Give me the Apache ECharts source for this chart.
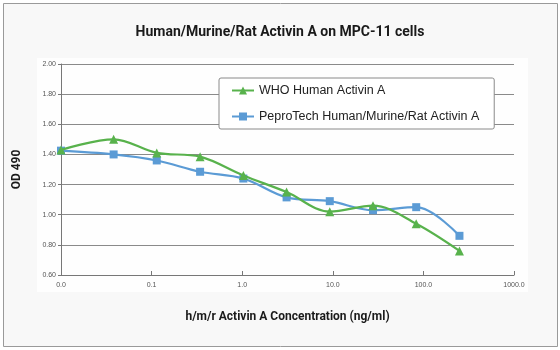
<!DOCTYPE html>
<html>
<head>
<meta charset="utf-8">
<script src="https://cdn.jsdelivr.net/npm/echarts@6/dist/echarts.min.js"></script>
<style>
  html, body { margin: 0; padding: 0; background: #fff; }
  #main { width: 560px; height: 350px; }
</style>
</head>
<body>
<div id="main"></div>
<script>
// concentrations (ng/ml), 3-fold dilution from 250; first point plotted at axis start
var concentrations = [0.01, 0.0381, 0.114, 0.343, 1.03, 3.09, 9.26, 27.8, 83.3, 250];
var whoValues = [1.43, 1.50, 1.41, 1.385, 1.26, 1.15, 1.02, 1.06, 0.94, 0.76];
var peproValues = [1.425, 1.40, 1.36, 1.285, 1.24, 1.115, 1.09, 1.03, 1.05, 0.86];
var seriesNames = ['WHO Human Activin A', 'PeproTech Human/Murine/Rat Activin A'];

function pairs(xs, ys) {
	var out = [];
	for (var i = 0; i < xs.length; i++) {
		out.push([xs[i], ys[i]]);
	}
	return out;
}

var myChart = echarts.init(document.getElementById('main'));

var option = {
	animation: false,
	backgroundColor: '#fff',
	graphic: [
		{
			type: 'rect',
			z: -10,
			shape: { x: 3.5, y: 3.5, width: 554, height: 343 },
			style: { fill: '#f8f8f8', stroke: '#9a9a9a', lineWidth: 1 }
		},
		{
			type: 'rect',
			z: -9,
			shape: { x: 37, y: 58, width: 491, height: 234 },
			style: { fill: '#fefefe' }
		}
	],
	title: {
		text: 'Human/Murine/Rat Activin A on MPC-11 cells',
		left: 'center',
		top: 20,
		textStyle: {
			fontFamily: 'Roboto',
			fontSize: 14,
			fontWeight: 'bold',
			color: '#1a1a1a'
		}
	},
	legend: {
		orient: 'vertical',
		left: 219,
		top: 78,
		padding: [6, 15, 6, 12],
		itemGap: 13,
		itemWidth: 22,
		itemHeight: 10,
		backgroundColor: '#fff',
		borderColor: '#8a8a8a',
		borderWidth: 1,
		borderRadius: 2,
		textStyle: {
			fontFamily: 'Liberation Sans',
			fontSize: 12.5,
			color: '#222'
		},
		data: seriesNames
	},
	grid: {
		left: 61,
		right: 46,
		top: 64,
		bottom: 75
	},
	xAxis: {
		type: 'log',
		logBase: 10,
		min: 0.01,
		max: 1000,
		name: 'h/m/r Activin A Concentration (ng/ml)',
		nameLocation: 'middle',
		nameGap: 36,
		nameTextStyle: {
			fontFamily: 'Roboto',
			fontSize: 12,
			fontWeight: 'bold',
			color: '#1a1a1a'
		},
		axisLine: { lineStyle: { color: '#777', width: 1 } },
		axisTick: { show: true, inside: true, length: 4, lineStyle: { color: '#777' } },
		splitLine: { show: false },
		minorTick: { show: false },
		axisLabel: {
			fontFamily: 'Liberation Sans',
			fontSize: 7,
			color: '#555',
			margin: 7,
			formatter: function(v) {
				return Number(v).toFixed(1);
			}
		}
	},
	yAxis: {
		type: 'value',
		min: 0.6,
		max: 2.0,
		interval: 0.2,
		name: 'OD 490',
		nameLocation: 'middle',
		nameGap: 38,
		nameRotate: 90,
		nameTextStyle: {
			fontFamily: 'Roboto',
			fontSize: 12,
			fontWeight: 'bold',
			color: '#1a1a1a'
		},
		axisLine: { show: true, lineStyle: { color: '#777', width: 1 } },
		axisTick: { show: true, length: 3, lineStyle: { color: '#777' } },
		splitLine: { lineStyle: { color: '#8a8a8a', width: 1 } },
		axisLabel: {
			fontFamily: 'Liberation Sans',
			fontSize: 7,
			color: '#555',
			margin: 5,
			formatter: function(v) {
				return Number(v).toFixed(2);
			}
		}
	},
	series: [
		{
			name: seriesNames[0],
			type: 'line',
			smooth: 0.35,
			symbol: 'triangle',
			symbolSize: 9,
			color: '#58b24c',
			lineStyle: { width: 2.2, color: '#58b24c' },
			itemStyle: { color: '#58b24c' },
			z: 3,
			data: pairs(concentrations, whoValues)
		},
		{
			name: seriesNames[1],
			type: 'line',
			smooth: 0.35,
			symbol: 'rect',
			symbolSize: 8,
			color: '#5b9bd5',
			lineStyle: { width: 2.2, color: '#5b9bd5' },
			itemStyle: { color: '#5b9bd5' },
			z: 2,
			data: pairs(concentrations, peproValues)
		}
	]
};

myChart.setOption(option);
</script>
</body>
</html>
